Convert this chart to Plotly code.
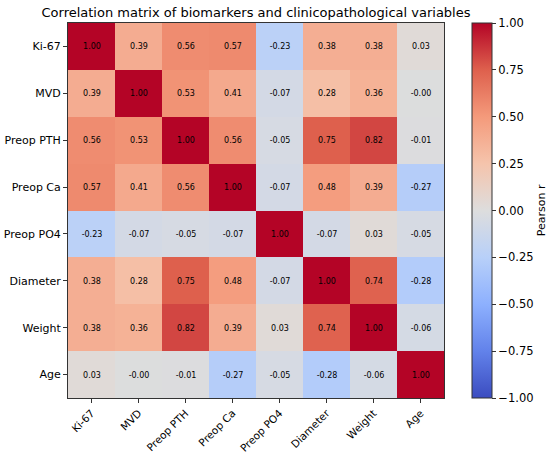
import plotly.graph_objects as go

# 变量名
labels = ["Ki-67", "MVD", "Preop PTH", "Preop Ca", "Preop PO4", "Diameter", "Weight", "Age"]

# Pearson r 相关矩阵（按行）
r_ki67 = [1.00, 0.39, 0.56, 0.57, -0.23, 0.38, 0.38, 0.03]
r_mvd = [0.39, 1.00, 0.53, 0.41, -0.07, 0.28, 0.36, -0.004]
r_pth = [0.56, 0.53, 1.00, 0.56, -0.05, 0.75, 0.82, -0.01]
r_ca = [0.57, 0.41, 0.56, 1.00, -0.07, 0.48, 0.39, -0.27]
r_po4 = [-0.23, -0.07, -0.05, -0.07, 1.00, -0.07, 0.03, -0.05]
r_diam = [0.38, 0.28, 0.75, 0.48, -0.07, 1.00, 0.74, -0.28]
r_weight = [0.38, 0.36, 0.82, 0.39, 0.03, 0.74, 1.00, -0.06]
r_age = [0.03, -0.004, -0.01, -0.27, -0.05, -0.28, -0.06, 1.00]

cbar_ticks = [-1.0, -0.75, -0.5, -0.25, 0.0, 0.25, 0.5, 0.75, 1.0]

z = [r_ki67, r_mvd, r_pth, r_ca, r_po4, r_diam, r_weight, r_age]
cell_text = [[f"{v:.2f}" for v in row] for row in z]

# matplotlib coolwarm 近似
COOLWARM = [
    [0.0, "#3b4cc0"], [0.125, "#6282ea"], [0.25, "#8db0fe"], [0.375, "#b8d0f9"],
    [0.5, "#dddddd"], [0.625, "#f5c4ac"], [0.75, "#f49a7b"], [0.875, "#de604d"],
    [1.0, "#b40426"],
]

FONT = "DejaVu Sans"
W, H = 550, 455

fig = go.Figure(go.Heatmap(
    z=z, x=labels, y=labels,
    colorscale=COOLWARM, zmin=-1, zmax=1,
    text=cell_text, texttemplate="%{text}",
    textfont=dict(family=FONT, size=8, color="black"),
    colorbar=dict(
        x=1.0745, xanchor="left", xref="paper", xpad=0,
        y=1, yanchor="top", len=1, lenmode="fraction", ypad=0,
        thickness=20, thicknessmode="pixels",
        outlinewidth=1, outlinecolor="#333",
        tickvals=cbar_ticks,
        ticktext=[f"{t:.2f}".replace("-", "\u2212") for t in cbar_ticks],
        ticks="outside", ticklen=4, tickcolor="#333",
        tickfont=dict(family=FONT, size=11.5, color="black"),
    ),
    hovertemplate="%{y} vs %{x}: r=%{z:.2f}<extra></extra>",
))

fig.add_annotation(
    text="Pearson r", textangle=-90, showarrow=False,
    xref="paper", yref="paper", x=1.26, y=0.5,
    xanchor="center", yanchor="middle",
    font=dict(family=FONT, size=11, color="black"),
)

fig.update_layout(
    width=W, height=H,
    margin=dict(l=68, r=106, t=23, b=57, autoexpand=False),
    paper_bgcolor="white", plot_bgcolor="white",
    font=dict(family=FONT, color="black"),
    title=dict(
        text="Correlation matrix of biomarkers and clinicopathological variables",
        x=0.5, xref="paper", xanchor="center",
        y=1 - 12 / H, yref="container", yanchor="middle",
        font=dict(family=FONT, size=13, color="black"),
    ),
)
fig.update_xaxes(
    tickangle=-45, ticks="outside", ticklen=4, tickcolor="#333",
    tickfont=dict(family=FONT, size=10.5), automargin=False,
    showline=True, linecolor="#333", linewidth=1, mirror=True,
    showgrid=False, zeroline=False,
)
fig.update_yaxes(
    autorange="reversed", ticks="outside", ticklen=4, tickcolor="#333",
    tickfont=dict(family=FONT, size=11), automargin=False,
    showline=True, linecolor="#333", linewidth=1, mirror=True,
    showgrid=False, zeroline=False,
)

# 去掉页面 body 的默认 8px 边距，让图贴齐窗口
fig.write_html("out.html", config={"displayModeBar": False},
               post_script="document.body.style.margin='0';")
